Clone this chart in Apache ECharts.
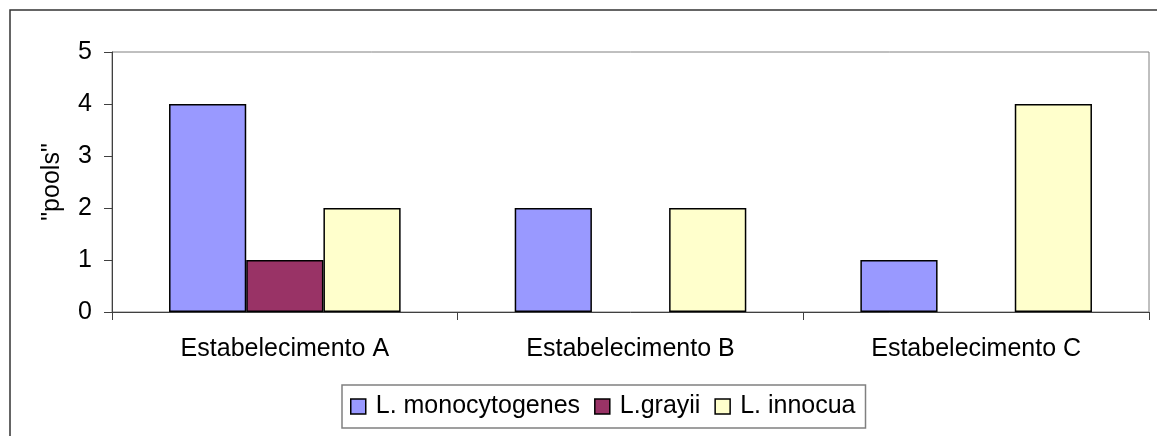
<!DOCTYPE html>
<html><head><meta charset="utf-8">
<script src="https://cdn.jsdelivr.net/npm/echarts@6/dist/echarts.min.js"></script>
<style>html,body{margin:0;padding:0;background:#fff}#c{width:1157px;height:436px}</style>
</head><body><div id="c"></div>
<script>
const categories = ['Estabelecimento A', 'Estabelecimento B', 'Estabelecimento C'];
const seriesNames = ['L. monocytogenes', 'L.grayii', 'L. innocua'];
const monocytogenes = [4, 2, 1];
const grayii = [1, 0, 0];
const innocua = [2, 2, 4];
const colors = ['#9999FF', '#993366', '#FFFFCC'];
const yAxisName = '"pools"';

const font = '"Liberation Sans", Arial, sans-serif';
const FS = 25;
const chart = echarts.init(document.getElementById('c'), null, {renderer: 'canvas'});
const mk = (name, data, color) => ({
  name, type: 'bar', data: data.map(v => v === 0 ? '-' : v), barGap: '0%', barCategoryGap: '33%',
  itemStyle: {color, borderColor: '#000', borderWidth: 1.5},
  emphasis: {disabled: true}
});
chart.setOption({
  animation: false,
  backgroundColor: '#fff',
  textStyle: {fontFamily: font, color: '#000'},
  graphic: [{type: 'rect', shape: {x: 10, y: 10, width: 1160, height: 440},
    style: {fill: 'none', stroke: '#333', lineWidth: 1.5}, z: -1}],
  grid: {left: 112, right: 8, top: 52, bottom: 124, show: true, borderColor: '#808080', borderWidth: 1, backgroundColor: 'transparent'},
  legend: {
    data: seriesNames, top: 385, left: 342, icon: 'rect', itemWidth: 15, itemHeight: 15, itemGap: 14,
    borderColor: '#808080', borderWidth: 1.5, padding: [9, 10, 9, 8],
    textStyle: {fontSize: FS, fontFamily: font, color: '#000', padding: [0, 0, 0, 5]},
    itemStyle: {borderColor: '#000', borderWidth: 1.5}
  },
  xAxis: {
    type: 'category', data: categories,
    axisLine: {lineStyle: {color: '#404040', width: 1}},
    axisTick: {show: true, length: 8, alignWithLabel: false, lineStyle: {color: '#404040'}},
    axisLabel: {fontSize: FS, color: '#000', margin: 25, fontFamily: font}
  },
  yAxis: {
    type: 'value', min: 0, max: 5, interval: 1,
    name: yAxisName, nameLocation: 'middle', nameRotate: 90, nameGap: 47,
    nameTextStyle: {fontSize: FS, color: '#000', fontFamily: font},
    axisLine: {show: true, lineStyle: {color: '#404040', width: 1}},
    axisTick: {show: true, length: 8, lineStyle: {color: '#404040'}},
    axisLabel: {fontSize: FS, color: '#000', margin: 20, fontFamily: font},
    splitLine: {show: false}
  },
  series: [mk(seriesNames[0], monocytogenes, colors[0]), mk(seriesNames[1], grayii, colors[1]), mk(seriesNames[2], innocua, colors[2])]
});
</script></body></html>
